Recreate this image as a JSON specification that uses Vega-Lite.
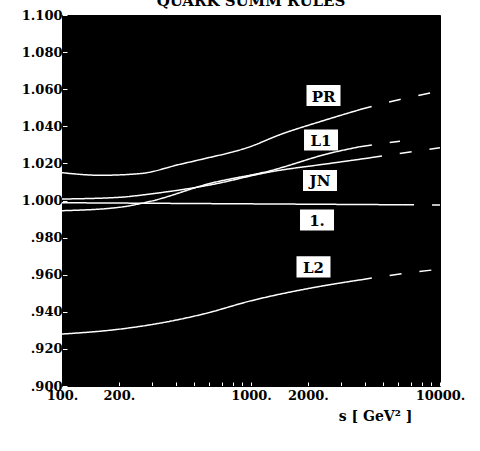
{
  "$schema": "https://vega.github.io/schema/vega-lite/v6.json",
  "autosize": {"type": "none"},
  "padding": {"top": 15, "left": 62, "right": 40, "bottom": 65},
  "width": 378,
  "height": 371,
  "background": "white",
  "title": {
    "text": "QUARK SUMM RULES",
    "font": "DejaVu Serif",
    "fontWeight": "bold",
    "fontSize": 15,
    "color": "black",
    "anchor": "middle",
    "offset": 0,
    "baseline": "alphabetic",
    "dy": 12
  },
  "datasets": {
    "curves": [
      {"series": "PR", "seg": "solid", "s": 100, "v": 1.0150},
      {"series": "PR", "seg": "solid", "s": 159, "v": 1.0136},
      {"series": "PR", "seg": "solid", "s": 259, "v": 1.0145},
      {"series": "PR", "seg": "solid", "s": 421, "v": 1.0195},
      {"series": "PR", "seg": "solid", "s": 537, "v": 1.0220},
      {"series": "PR", "seg": "solid", "s": 988, "v": 1.0290},
      {"series": "PR", "seg": "solid", "s": 1424, "v": 1.0355},
      {"series": "PR", "seg": "solid", "s": 2318, "v": 1.0425},
      {"series": "PR", "seg": "solid", "s": 3773, "v": 1.0490},
      {"series": "PR", "seg": "dashed", "s": 3773, "v": 1.0490},
      {"series": "PR", "seg": "dashed", "s": 6140, "v": 1.0545},
      {"series": "PR", "seg": "dashed", "s": 10000, "v": 1.0590},
      {"series": "L1", "seg": "solid", "s": 100, "v": 0.9945},
      {"series": "L1", "seg": "solid", "s": 200, "v": 0.9963},
      {"series": "L1", "seg": "solid", "s": 292, "v": 0.9995},
      {"series": "L1", "seg": "solid", "s": 607, "v": 1.0092},
      {"series": "L1", "seg": "solid", "s": 1260, "v": 1.0160},
      {"series": "L1", "seg": "solid", "s": 2618, "v": 1.0255},
      {"series": "L1", "seg": "solid", "s": 3773, "v": 1.0290},
      {"series": "L1", "seg": "dashed", "s": 3773, "v": 1.0290},
      {"series": "L1", "seg": "dashed", "s": 6140, "v": 1.0320},
      {"series": "JN", "seg": "solid", "s": 100, "v": 1.0008},
      {"series": "JN", "seg": "solid", "s": 200, "v": 1.0017},
      {"series": "JN", "seg": "solid", "s": 292, "v": 1.0035},
      {"series": "JN", "seg": "solid", "s": 607, "v": 1.0084},
      {"series": "JN", "seg": "solid", "s": 1260, "v": 1.0154},
      {"series": "JN", "seg": "solid", "s": 2618, "v": 1.0200},
      {"series": "JN", "seg": "solid", "s": 4266, "v": 1.0230},
      {"series": "JN", "seg": "dashed", "s": 4266, "v": 1.0230},
      {"series": "JN", "seg": "dashed", "s": 10000, "v": 1.0285},
      {"series": "1.", "seg": "solid", "s": 100, "v": 0.9988},
      {"series": "1.", "seg": "solid", "s": 6300, "v": 0.9977},
      {"series": "1.", "seg": "dashed", "s": 6300, "v": 0.9977},
      {"series": "1.", "seg": "dashed", "s": 10000, "v": 0.9976},
      {"series": "L2", "seg": "solid", "s": 100, "v": 0.9280},
      {"series": "L2", "seg": "solid", "s": 200, "v": 0.9306},
      {"series": "L2", "seg": "solid", "s": 310, "v": 0.9334},
      {"series": "L2", "seg": "solid", "s": 570, "v": 0.9390},
      {"series": "L2", "seg": "solid", "s": 988, "v": 0.9458},
      {"series": "L2", "seg": "solid", "s": 2047, "v": 0.9527},
      {"series": "L2", "seg": "solid", "s": 3773, "v": 0.9572},
      {"series": "L2", "seg": "dashed", "s": 3773, "v": 0.9572},
      {"series": "L2", "seg": "dashed", "s": 6140, "v": 0.9604},
      {"series": "L2", "seg": "dashed", "s": 10000, "v": 0.9630}
    ],
    "labels": [
      {"label": "PR", "s": 2419, "v": 1.0566},
      {"label": "L1", "s": 2347, "v": 1.0326},
      {"label": "JN", "s": 2318, "v": 1.0108},
      {"label": "1.", "s": 2235, "v": 0.9895},
      {"label": "L2", "s": 2141, "v": 0.9642}
    ]
  },
  "encoding": {
    "x": {
      "field": "s",
      "type": "quantitative",
      "scale": {"type": "log", "domain": [100, 10000], "nice": false},
      "axis": {
        "title": "s [ GeV² ]",
        "titleFont": "DejaVu Serif",
        "titleFontWeight": "bold",
        "titleFontSize": 14,
        "titleColor": "black",
        "titleX": 313,
        "titleY": 30,
        "titleBaseline": "middle",
        "titleAlign": "center",
        "values": [100, 200, 300, 400, 500, 600, 700, 800, 900, 1000, 2000, 3000, 4000, 5000, 6000, 7000, 8000, 9000, 10000],
        "labelExpr": "indexof([100,200,1000,2000,10000], datum.value) >= 0 ? format(datum.value, 'd') + '.' : ''",
        "labelFont": "DejaVu Serif",
        "labelFontWeight": "bold",
        "labelFontSize": 13,
        "labelColor": "black",
        "labelFlush": false,
        "labelOverlap": false,
        "labelPadding": 7,
        "tickColor": "white",
        "tickSize": -4,
        "domainColor": "black",
        "grid": false
      }
    },
    "y": {
      "field": "v",
      "type": "quantitative",
      "scale": {"domain": [0.9, 1.1], "nice": false, "zero": false},
      "axis": {
        "title": null,
        "values": [0.9, 0.92, 0.94, 0.96, 0.98, 1.0, 1.02, 1.04, 1.06, 1.08, 1.1],
        "labelExpr": "datum.value >= 0.9995 ? format(datum.value, '.3f') : replace(format(datum.value, '.3f'), '0.', '.')",
        "labelFont": "DejaVu Serif",
        "labelFontWeight": "bold",
        "labelFontSize": 13,
        "labelColor": "black",
        "labelFlush": false,
        "labelOverlap": false,
        "labelPadding": 5,
        "tickColor": "white",
        "tickSize": -5,
        "domainColor": "black",
        "grid": false
      }
    }
  },
  "layer": [
    {
      "data": {"name": "curves"},
      "mark": {"type": "line", "color": "white", "strokeWidth": 1.5, "clip": true, "interpolate": "monotone"},
      "encoding": {
        "detail": [{"field": "series"}, {"field": "seg"}],
        "strokeDash": {
          "field": "seg",
          "type": "nominal",
          "scale": {"domain": ["solid", "dashed"], "range": [[1, 0], [12, 18]]},
          "legend": null
        }
      }
    },
    {
      "data": {"name": "labels"},
      "mark": {"type": "point", "shape": "M-1,-0.62H1V0.62H-1Z", "filled": true, "color": "white", "opacity": 1, "size": 1156}
    },
    {
      "data": {"name": "labels"},
      "mark": {"type": "text", "font": "DejaVu Serif", "fontWeight": "bold", "fontSize": 15, "color": "black", "align": "center", "baseline": "middle", "dy": 1},
      "encoding": {"text": {"field": "label"}}
    }
  ],
  "config": {
    "view": {"fill": "black", "stroke": "black"}
  }
}
